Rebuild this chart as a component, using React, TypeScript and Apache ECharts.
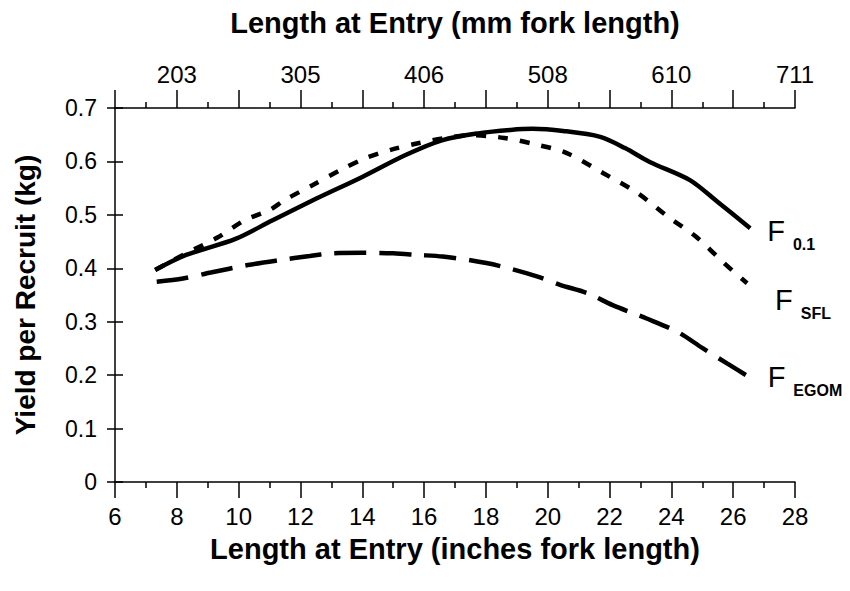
import React, { useEffect, useRef } from "react";
import * as echarts from "echarts";

// Length at entry (inches) and yield per recruit (kg) for each curve
const f01X = [7.3, 8.3, 9.9, 11.1, 12.5, 14.0, 15.4, 16.6, 17.8, 18.8, 19.5, 20.5, 21.7, 22.5, 23.3, 24.6, 25.5, 26.55];
const f01Y = [0.397, 0.425, 0.455, 0.49, 0.53, 0.571, 0.612, 0.64, 0.653, 0.659, 0.661, 0.657, 0.646, 0.625, 0.599, 0.565, 0.524, 0.475];

const sflX = [7.3, 8.3, 9.3, 10.2, 11.0, 11.5, 12.4, 13.3, 14.1, 15.0, 15.8, 16.6, 17.5, 18.6, 19.6, 20.6, 21.8, 22.9, 23.9, 24.8, 25.7, 26.45];
const sflY = [0.397, 0.428, 0.457, 0.49, 0.509, 0.528, 0.556, 0.584, 0.606, 0.623, 0.634, 0.643, 0.649, 0.644, 0.632, 0.616, 0.578, 0.541, 0.496, 0.459, 0.41, 0.372];

const egomX = [7.35, 8.2, 9.1, 10.3, 11.3, 12.3, 13.0, 14.0, 15.0, 15.8, 16.6, 17.5, 18.4, 19.7, 20.4, 21.3, 22.1, 23.2, 24.2, 25.0, 25.8, 26.5];
const egomY = [0.375, 0.381, 0.392, 0.406, 0.415, 0.423, 0.428, 0.429, 0.428, 0.425, 0.422, 0.415, 0.405, 0.384, 0.369, 0.353, 0.331, 0.306, 0.281, 0.251, 0.222, 0.197];

const seriesSubscripts = ["0.1", "SFL", "EGOM"];

// Top axis: tick position in inches and its label in mm
const topTickInches = [8, 12, 16, 20, 24, 28];
const topTickLabels = ["203", "305", "406", "508", "610", "711"];

const FONT = "'Liberation Sans', Arial, Helvetica, sans-serif";

function pairs(xs: number[], ys: number[]) {
  return xs.map((x, i) => [x, ys[i]]);
}

function endLabel(sub: string, dx: number, dy: number) {
  return {
    show: true,
    distance: 0,
    offset: [dx, dy],
    formatter: `{f|F}{s|${sub}}`,
    rich: {
      f: { fontFamily: FONT, fontSize: 29, color: "#000", padding: [0, 0, 7, 0], verticalAlign: "bottom" },
      s: { fontFamily: FONT, fontSize: 16, fontWeight: "bold", color: "#000", padding: [0, 0, 0, 8], verticalAlign: "bottom" },
    },
  };
}

export default function App() {
  const ref = useRef<HTMLDivElement>(null);
  useEffect(() => {
    if (!ref.current) return;
    const chart = echarts.init(ref.current, null, { renderer: "svg" });
    const axisLine = { show: true, onZero: false, lineStyle: { color: "#000", width: 1.5 } };
    const tickStyle = { color: "#000", width: 1.5 };
    const nameStyle = { color: "#000", fontSize: 29, fontWeight: "bold", fontFamily: FONT };
    const labelBase = { color: "#000", fontSize: 24, fontFamily: FONT };
    chart.setOption({
      animation: false,
      backgroundColor: "#fff",
      grid: { left: 115, right: 55, top: 108, bottom: 109, containLabel: false },
      xAxis: [
        {
          type: "value",
          position: "bottom",
          min: 6,
          max: 28,
          interval: 2,
          axisLine,
          axisTick: { show: true, inside: false, length: 16, lineStyle: tickStyle },
          minorTick: { show: true, splitNumber: 2, length: 6, lineStyle: tickStyle },
          splitLine: { show: false },
          axisLabel: { ...labelBase, margin: 22 },
          name: "Length at Entry (inches fork length)",
          nameLocation: "middle",
          nameGap: 52,
          nameTextStyle: nameStyle,
        },
        {
          type: "value",
          position: "top",
          min: 6,
          max: 28,
          interval: 2,
          axisLine,
          axisTick: { show: true, inside: false, length: 18, lineStyle: tickStyle },
          minorTick: { show: true, splitNumber: 2, length: 6, lineStyle: tickStyle },
          splitLine: { show: false },
          axisLabel: {
            ...labelBase,
            margin: 22,
            showMaxLabel: true,
            formatter: (v: number) => {
              const i = topTickInches.findIndex((t) => Math.abs(t - v) < 1e-6);
              return i >= 0 ? topTickLabels[i] : "";
            },
          },
          name: "Length at Entry (mm fork length)",
          nameLocation: "middle",
          nameGap: 71,
          nameTextStyle: nameStyle,
        },
      ],
      yAxis: [
        {
          type: "value",
          position: "left",
          min: 0,
          max: 0.7,
          interval: 0.1,
          axisLine,
          axisTick: { show: true, inside: false, length: 8, lineStyle: tickStyle },
          splitLine: { show: false },
          axisLabel: {
            ...labelBase,
            fontSize: 23,
            margin: 18,
            formatter: (v: number) => (v === 0 ? "0" : v.toFixed(1)),
          },
          name: "Yield per Recruit (kg)",
          nameLocation: "middle",
          nameGap: 76,
          nameTextStyle: { ...nameStyle, fontSize: 28 },
        },
        {
          type: "value",
          position: "left",
          offset: 0,
          min: 0,
          max: 0.7,
          interval: 0.1,
          axisLine: { show: false, onZero: false },
          axisTick: { show: true, inside: true, length: 8, lineStyle: tickStyle },
          splitLine: { show: false },
          axisLabel: { show: false },
        },
      ],
      series: [
        {
          type: "line",
          name: "F0.1",
          data: pairs(f01X, f01Y),
          smooth: 0.3,
          showSymbol: false,
          lineStyle: { color: "#000", width: 4.5, type: "solid" },
          endLabel: endLabel(seriesSubscripts[0], 17, 6),
        },
        {
          type: "line",
          name: "FSFL",
          data: pairs(sflX, sflY),
          smooth: 0.3,
          showSymbol: false,
          lineStyle: { color: "#000", width: 4.5, type: [10, 12] },
          endLabel: endLabel(seriesSubscripts[1], 28, 20),
        },
        {
          type: "line",
          name: "FEGOM",
          data: pairs(egomX, egomY),
          smooth: 0.3,
          showSymbol: false,
          lineStyle: { color: "#000", width: 4.5, type: [32, 13] },
          endLabel: endLabel(seriesSubscripts[2], 19, 4),
        },
      ],
    });
    return () => chart.dispose();
  }, []);
  return (
    <div
      ref={ref}
      style={{ position: "fixed", left: 0, top: 0, width: 850, height: 591, background: "#fff" }}
    />
  );
}
